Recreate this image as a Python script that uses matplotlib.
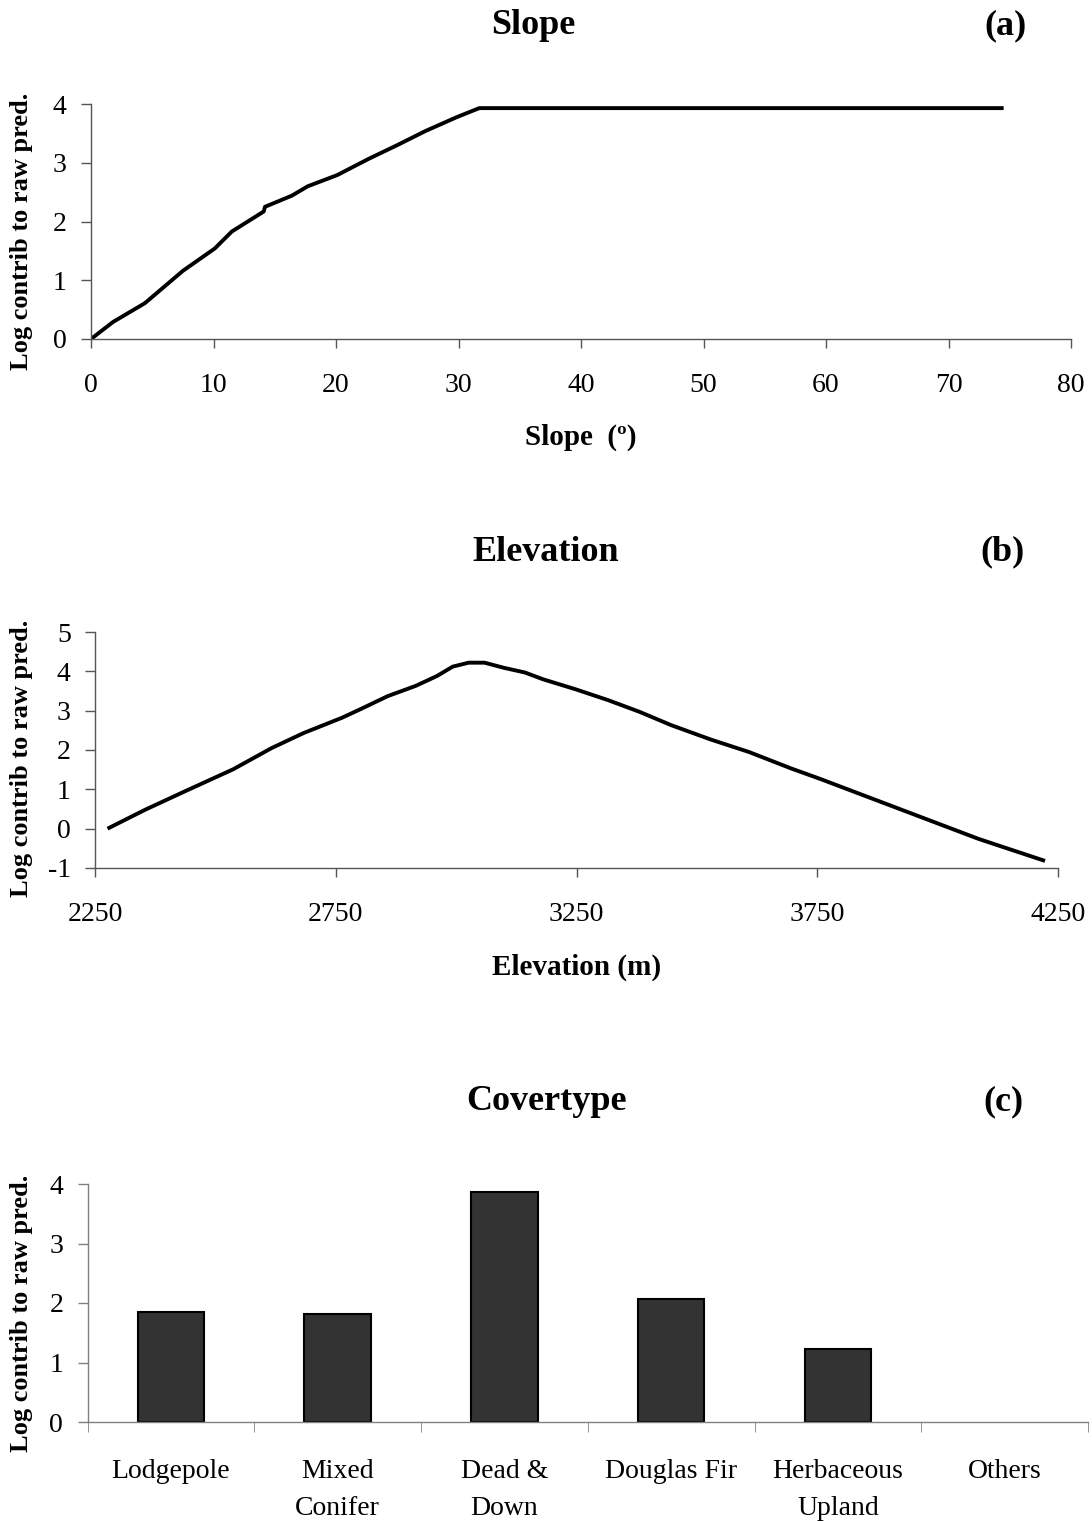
import matplotlib
matplotlib.use("Agg")
import matplotlib.pyplot as plt
import numpy as np

plt.rcParams["font.family"] = ["Liberation Serif", "DejaVu Serif"]
plt.rcParams["axes.unicode_minus"] = False

# panel (a) slope response
slope_deg = [0, 1.8, 4.4, 7.5, 10.1, 11.5, 14.1, 14.2, 16.4, 17.7, 20.1,
             22.7, 25.0, 27.3, 29.9, 31.7, 74.5]
slope_val = [0, 0.29, 0.61, 1.16, 1.54, 1.83, 2.17, 2.25, 2.44, 2.6, 2.79,
             3.07, 3.3, 3.54, 3.78, 3.93, 3.93]

# panel (b) elevation response
elev_m = [2276, 2354, 2435, 2537, 2617, 2683, 2763, 2800, 2858, 2916, 2960,
          2993, 3026, 3059, 3099, 3143, 3180, 3249, 3315, 3381, 3447, 3528,
          3608, 3696, 3755, 3865, 3975, 4085, 4223]
elev_val = [0, 0.48, 0.94, 1.51, 2.05, 2.43, 2.82, 3.03, 3.37, 3.63, 3.88,
            4.12, 4.22, 4.22, 4.09, 3.97, 3.8, 3.54, 3.27, 2.97, 2.63, 2.27,
            1.95, 1.53, 1.27, 0.76, 0.25, -0.26, -0.82]

# panel (c) covertype
cover_types = ["Lodgepole", "Mixed\nConifer", "Dead &\nDown", "Douglas Fir",
               "Herbaceous\nUpland", "Others"]
cover_val = [1.85, 1.82, 3.86, 2.06, 1.22, 0]

ylab = "Log contrib to raw pred."
W, H = 1092, 1521
TICK_FS = 20
TITLE_FS = 26
XLAB_FS = 21
YLAB_FS = 19


def px_axes(left, right, top, bottom):
    return fig.add_axes([left / W, 1 - bottom / H, (right - left) / W, (bottom - top) / H])


def style(ax, col):
    for s in ["top", "right"]:
        ax.spines[s].set_visible(False)
    for s in ["left", "bottom"]:
        ax.spines[s].set_color(col)
        ax.spines[s].set_linewidth(1.0)
    ax.tick_params(axis="both", direction="out", color=col, width=1.0,
                   labelsize=TICK_FS)
    ax.tick_params(axis="x", length=6.7, pad=18)
    ax.tick_params(axis="y", length=7.5, pad=10)


def titles(ypx, name, name_x, tag, tag_x):
    fig.text(name_x / W, 1 - ypx / H, name, fontsize=TITLE_FS, fontweight="bold",
             ha="center", va="center")
    fig.text(tag_x / W, 1 - ypx / H, tag, fontsize=TITLE_FS, fontweight="bold",
             ha="center", va="center")


def ylabel(ypx):
    fig.text(22 / W, 1 - ypx / H, ylab, fontsize=YLAB_FS, fontweight="bold",
             rotation=90, ha="center", va="center")


fig = plt.figure(figsize=(W / 100, H / 100), dpi=100)

# (a)
ax1 = px_axes(91, 1071, 104, 339)
ax1.plot(slope_deg, slope_val, color="black", lw=2.8, solid_capstyle="butt")
ax1.set_xlim(0, 80)
ax1.set_ylim(0, 4)
ax1.set_xticks(np.arange(0, 81, 10))
ax1.set_yticks(range(0, 5))
style(ax1, "#555555")
ax1.set_xlabel("Slope  (º)", fontsize=XLAB_FS, fontweight="bold", labelpad=18)
titles(26, "Slope", 533, "(a)", 1005)
ylabel(231)

# (b)
ax2 = px_axes(95, 1058, 632, 868)
ax2.plot(elev_m, elev_val, color="black", lw=2.8, solid_capstyle="butt")
ax2.set_xlim(2250, 4250)
ax2.set_ylim(-1, 5)
ax2.set_xticks([2250, 2750, 3250, 3750, 4250])
ax2.set_yticks(range(-1, 6))
style(ax2, "#555555")
ax2.set_xlabel("Elevation (m)", fontsize=XLAB_FS, fontweight="bold", labelpad=19)
titles(552, "Elevation", 546, "(b)", 1003)
ylabel(758)

# (c)
ax3 = px_axes(87.5, 1088, 1184, 1422)
pos = np.arange(len(cover_types))
edges = ["black" if v != 0 else "none" for v in cover_val]
ax3.bar(pos, cover_val, width=0.4, color="#333333", edgecolor=edges, lw=1.5)
ax3.set_xlim(-0.5, len(cover_types) - 0.5)
ax3.set_ylim(0, 4)
ax3.set_yticks(range(0, 5))
style(ax3, "#808080")
ax3.set_xticks(pos)
ax3.set_xticklabels(cover_types)
ax3.set_xticks(np.arange(-0.5, len(cover_types)), minor=True)
ax3.tick_params(axis="x", which="major", length=0, pad=27)
ax3.tick_params(axis="x", which="minor", length=7.2, color="#808080")
for t in ax3.get_xticklabels():
    t.set_linespacing(1.6)
titles(1102, "Covertype", 546, "(c)", 1003)
ylabel(1313)

fig.savefig("out.png", dpi=100)
